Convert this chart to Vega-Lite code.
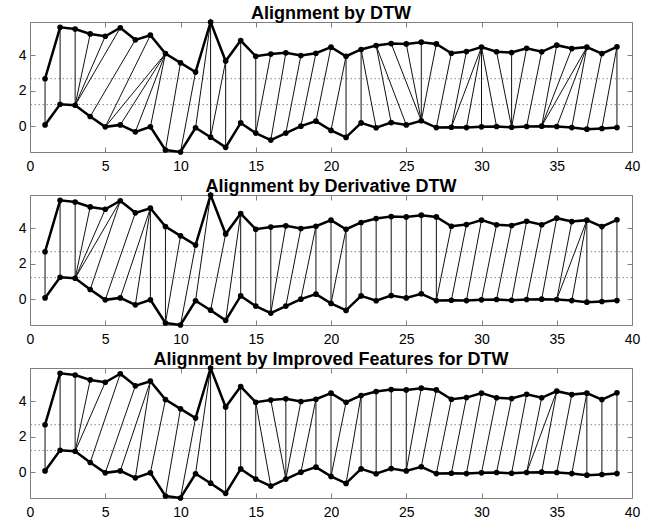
{
 "$schema": "https://vega.github.io/schema/vega-lite/v6.json",
 "padding": {"left": 17, "top": 4, "right": 25, "bottom": 0},
 "bounds": "flush",
 "spacing": 43,
 "background": "white",
 "config": {
  "view": {"stroke": "#7f7f7f", "strokeWidth": 1},
  "axis": {"domain": false, "grid": false, "ticks": true, "tickColor": "#7f7f7f", "tickSize": -5, "labelFont": "Liberation Sans", "labelFontSize": 14, "labelColor": "#000", "title": null, "labelFlush": false, "labelOverlap": false},
  "title": {"font": "Liberation Sans", "fontSize": 18, "fontWeight": "bold", "color": "#000", "offset": -6, "anchor": "middle"}
 },
 "datasets": {
  "series": [
   {"t":1,"top":2.68,"bottom":0.09},{"t":2,"top":5.56,"bottom":1.25},{"t":3,"top":5.47,"bottom":1.19},{"t":4,"top":5.19,"bottom":0.56},{"t":5,"top":5.06,"bottom":-0.02},
   {"t":6,"top":5.54,"bottom":0.09},{"t":7,"top":4.86,"bottom":-0.30},{"t":8,"top":5.12,"bottom":-0.02},{"t":9,"top":4.09,"bottom":-1.32},{"t":10,"top":3.57,"bottom":-1.43},
   {"t":11,"top":3.05,"bottom":-0.07},{"t":12,"top":5.86,"bottom":-0.60},{"t":13,"top":3.67,"bottom":-1.17},{"t":14,"top":4.82,"bottom":0.20},{"t":15,"top":3.94,"bottom":-0.37},
   {"t":16,"top":4.06,"bottom":-0.76},{"t":17,"top":4.13,"bottom":-0.37},{"t":18,"top":3.98,"bottom":0.02},{"t":19,"top":4.11,"bottom":0.30},{"t":20,"top":4.45,"bottom":-0.22},
   {"t":21,"top":3.94,"bottom":-0.61},{"t":22,"top":4.32,"bottom":0.20},{"t":23,"top":4.54,"bottom":-0.07},{"t":24,"top":4.65,"bottom":0.22},{"t":25,"top":4.63,"bottom":0.09},
   {"t":26,"top":4.73,"bottom":0.32},{"t":27,"top":4.63,"bottom":-0.06},{"t":28,"top":4.11,"bottom":-0.04},{"t":29,"top":4.20,"bottom":-0.06},{"t":30,"top":4.45,"bottom":-0.02},
   {"t":31,"top":4.19,"bottom":0.00},{"t":32,"top":4.15,"bottom":-0.04},{"t":33,"top":4.39,"bottom":0.00},{"t":34,"top":4.19,"bottom":0.02},{"t":35,"top":4.56,"bottom":0.00},
   {"t":36,"top":4.37,"bottom":-0.06},{"t":37,"top":4.45,"bottom":-0.15},{"t":38,"top":4.09,"bottom":-0.11},{"t":39,"top":4.47,"bottom":-0.06}
  ],
  "refs": [{"y": 2.68}, {"y": 1.23}],
  "alignA": [
   {"i":1,"j":1,"yi":2.68,"yj":0.09},{"i":2,"j":2,"yi":5.56,"yj":1.25},{"i":3,"j":3,"yi":5.47,"yj":1.19},{"i":4,"j":3,"yi":5.19,"yj":1.19},{"i":5,"j":3,"yi":5.06,"yj":1.19},{"i":6,"j":3,"yi":5.54,"yj":1.19},{"i":7,"j":4,"yi":4.86,"yj":0.56},{"i":8,"j":5,"yi":5.12,"yj":-0.02},{"i":9,"j":5,"yi":4.09,"yj":-0.02},{"i":9,"j":6,"yi":4.09,"yj":0.09},{"i":9,"j":7,"yi":4.09,"yj":-0.30},{"i":9,"j":8,"yi":4.09,"yj":-0.02},{"i":10,"j":9,"yi":3.57,"yj":-1.32},{"i":11,"j":10,"yi":3.05,"yj":-1.43},{"i":12,"j":11,"yi":5.86,"yj":-0.07},{"i":12,"j":12,"yi":5.86,"yj":-0.60},{"i":13,"j":12,"yi":3.67,"yj":-0.60},{"i":13,"j":13,"yi":3.67,"yj":-1.17},{"i":14,"j":14,"yi":4.82,"yj":0.20},{"i":15,"j":15,"yi":3.94,"yj":-0.37},{"i":16,"j":15,"yi":4.06,"yj":-0.37},{"i":17,"j":16,"yi":4.13,"yj":-0.76},{"i":18,"j":17,"yi":3.98,"yj":-0.37},{"i":19,"j":18,"yi":4.11,"yj":0.02},{"i":20,"j":19,"yi":4.45,"yj":0.30},{"i":21,"j":20,"yi":3.94,"yj":-0.22},{"i":21,"j":21,"yi":3.94,"yj":-0.61},{"i":22,"j":22,"yi":4.32,"yj":0.20},{"i":22,"j":23,"yi":4.32,"yj":-0.07},{"i":23,"j":24,"yi":4.54,"yj":0.22},{"i":23,"j":25,"yi":4.54,"yj":0.09},{"i":24,"j":26,"yi":4.65,"yj":0.32},{"i":25,"j":26,"yi":4.63,"yj":0.32},{"i":26,"j":26,"yi":4.73,"yj":0.32},{"i":27,"j":26,"yi":4.63,"yj":0.32},{"i":28,"j":27,"yi":4.11,"yj":-0.06},{"i":29,"j":28,"yi":4.20,"yj":-0.04},{"i":30,"j":28,"yi":4.45,"yj":-0.04},{"i":30,"j":29,"yi":4.45,"yj":-0.06},{"i":30,"j":30,"yi":4.45,"yj":-0.02},{"i":30,"j":31,"yi":4.45,"yj":0.00},{"i":31,"j":32,"yi":4.19,"yj":-0.04},{"i":32,"j":32,"yi":4.15,"yj":-0.04},{"i":33,"j":32,"yi":4.39,"yj":-0.04},{"i":34,"j":33,"yi":4.19,"yj":0.00},{"i":35,"j":34,"yi":4.56,"yj":0.02},{"i":36,"j":34,"yi":4.37,"yj":0.02},{"i":37,"j":34,"yi":4.45,"yj":0.02},{"i":37,"j":35,"yi":4.45,"yj":0.00},{"i":37,"j":36,"yi":4.45,"yj":-0.06},{"i":38,"j":37,"yi":4.09,"yj":-0.15},{"i":39,"j":38,"yi":4.47,"yj":-0.11},{"i":39,"j":39,"yi":4.47,"yj":-0.06}
  ],
  "alignB": [
   {"i":1,"j":1,"yi":2.68,"yj":0.09},{"i":2,"j":2,"yi":5.56,"yj":1.25},{"i":3,"j":3,"yi":5.47,"yj":1.19},{"i":4,"j":3,"yi":5.19,"yj":1.19},{"i":5,"j":3,"yi":5.06,"yj":1.19},{"i":6,"j":3,"yi":5.54,"yj":1.19},{"i":6,"j":4,"yi":5.54,"yj":0.56},{"i":7,"j":5,"yi":4.86,"yj":-0.02},{"i":8,"j":6,"yi":5.12,"yj":0.09},{"i":8,"j":7,"yi":5.12,"yj":-0.30},{"i":8,"j":8,"yi":5.12,"yj":-0.02},{"i":9,"j":9,"yi":4.09,"yj":-1.32},{"i":10,"j":9,"yi":3.57,"yj":-1.32},{"i":11,"j":10,"yi":3.05,"yj":-1.43},{"i":12,"j":11,"yi":5.86,"yj":-0.07},{"i":13,"j":12,"yi":3.67,"yj":-0.60},{"i":14,"j":13,"yi":4.82,"yj":-1.17},{"i":14,"j":14,"yi":4.82,"yj":0.20},{"i":15,"j":15,"yi":3.94,"yj":-0.37},{"i":16,"j":16,"yi":4.06,"yj":-0.76},{"i":17,"j":16,"yi":4.13,"yj":-0.76},{"i":18,"j":17,"yi":3.98,"yj":-0.37},{"i":19,"j":18,"yi":4.11,"yj":0.02},{"i":19,"j":19,"yi":4.11,"yj":0.30},{"i":20,"j":20,"yi":4.45,"yj":-0.22},{"i":21,"j":20,"yi":3.94,"yj":-0.22},{"i":21,"j":21,"yi":3.94,"yj":-0.61},{"i":22,"j":22,"yi":4.32,"yj":0.20},{"i":23,"j":23,"yi":4.54,"yj":-0.07},{"i":24,"j":24,"yi":4.65,"yj":0.22},{"i":25,"j":25,"yi":4.63,"yj":0.09},{"i":26,"j":26,"yi":4.73,"yj":0.32},{"i":27,"j":27,"yi":4.63,"yj":-0.06},{"i":28,"j":27,"yi":4.11,"yj":-0.06},{"i":29,"j":28,"yi":4.20,"yj":-0.04},{"i":30,"j":29,"yi":4.45,"yj":-0.06},{"i":31,"j":30,"yi":4.19,"yj":-0.02},{"i":32,"j":31,"yi":4.15,"yj":0.00},{"i":33,"j":32,"yi":4.39,"yj":-0.04},{"i":34,"j":33,"yi":4.19,"yj":0.00},{"i":35,"j":34,"yi":4.56,"yj":0.02},{"i":36,"j":35,"yi":4.37,"yj":0.00},{"i":37,"j":35,"yi":4.45,"yj":0.00},{"i":37,"j":36,"yi":4.45,"yj":-0.06},{"i":37,"j":37,"yi":4.45,"yj":-0.15},{"i":38,"j":38,"yi":4.09,"yj":-0.11},{"i":39,"j":39,"yi":4.47,"yj":-0.06}
  ],
  "alignC": [
   {"i":1,"j":1,"yi":2.68,"yj":0.09},{"i":2,"j":2,"yi":5.56,"yj":1.25},{"i":3,"j":3,"yi":5.47,"yj":1.19},{"i":4,"j":3,"yi":5.19,"yj":1.19},{"i":5,"j":3,"yi":5.06,"yj":1.19},{"i":6,"j":4,"yi":5.54,"yj":0.56},{"i":7,"j":5,"yi":4.86,"yj":-0.02},{"i":8,"j":6,"yi":5.12,"yj":0.09},{"i":8,"j":7,"yi":5.12,"yj":-0.30},{"i":9,"j":8,"yi":4.09,"yj":-0.02},{"i":10,"j":9,"yi":3.57,"yj":-1.32},{"i":11,"j":10,"yi":3.05,"yj":-1.43},{"i":12,"j":11,"yi":5.86,"yj":-0.07},{"i":12,"j":12,"yi":5.86,"yj":-0.60},{"i":13,"j":13,"yi":3.67,"yj":-1.17},{"i":14,"j":14,"yi":4.82,"yj":0.20},{"i":15,"j":15,"yi":3.94,"yj":-0.37},{"i":15,"j":16,"yi":3.94,"yj":-0.76},{"i":16,"j":17,"yi":4.06,"yj":-0.37},{"i":17,"j":17,"yi":4.13,"yj":-0.37},{"i":18,"j":17,"yi":3.98,"yj":-0.37},{"i":19,"j":18,"yi":4.11,"yj":0.02},{"i":19,"j":19,"yi":4.11,"yj":0.30},{"i":20,"j":20,"yi":4.45,"yj":-0.22},{"i":21,"j":20,"yi":3.94,"yj":-0.22},{"i":22,"j":21,"yi":4.32,"yj":-0.61},{"i":22,"j":22,"yi":4.32,"yj":0.20},{"i":23,"j":23,"yi":4.54,"yj":-0.07},{"i":24,"j":24,"yi":4.65,"yj":0.22},{"i":25,"j":25,"yi":4.63,"yj":0.09},{"i":26,"j":25,"yi":4.73,"yj":0.09},{"i":27,"j":26,"yi":4.63,"yj":0.32},{"i":28,"j":27,"yi":4.11,"yj":-0.06},{"i":29,"j":28,"yi":4.20,"yj":-0.04},{"i":30,"j":29,"yi":4.45,"yj":-0.06},{"i":31,"j":30,"yi":4.19,"yj":-0.02},{"i":32,"j":31,"yi":4.15,"yj":0.00},{"i":33,"j":32,"yi":4.39,"yj":-0.04},{"i":34,"j":33,"yi":4.19,"yj":0.00},{"i":35,"j":33,"yi":4.56,"yj":0.00},{"i":35,"j":34,"yi":4.56,"yj":0.02},{"i":36,"j":35,"yi":4.37,"yj":0.00},{"i":37,"j":36,"yi":4.45,"yj":-0.06},{"i":37,"j":37,"yi":4.45,"yj":-0.15},{"i":38,"j":38,"yi":4.09,"yj":-0.11},{"i":39,"j":39,"yi":4.47,"yj":-0.06}
  ]
 },
 "vconcat": [
  {
   "width": 602, "height": 130,
   "title": "Alignment by DTW",
   "resolve": {"axis": {"x": "independent", "y": "independent"}},
   "layer": [
    {"data": {"name": "refs"}, "mark": {"type": "rule", "color": "#8c8c8c", "strokeWidth": 1, "strokeDash": [1.5, 2.5]},
     "encoding": {"y": {"field": "y", "type": "quantitative", "scale": {"domain": [-1.43, 5.86], "nice": false, "zero": false}, "axis": null}}},
    {"data": {"name": "alignA"},
     "mark": {"type": "rule", "color": "#111", "strokeWidth": 1},
     "encoding": {"x": {"field": "i", "type": "quantitative", "scale": {"domain": [0, 40], "nice": false}, "axis": null}, "x2": {"field": "j"},
      "y": {"field": "yi", "type": "quantitative", "scale": {"domain": [-1.43, 5.86], "nice": false, "zero": false}, "axis": null}, "y2": {"field": "yj"}}},
    {"data": {"name": "series"}, "transform": [{"fold": ["top", "bottom"], "as": ["s", "v"]}],
     "mark": {"type": "line", "color": "#000", "strokeWidth": 2.5},
     "encoding": {"x": {"field": "t", "type": "quantitative", "scale": {"domain": [0, 40], "nice": false}, "axis": {"orient": "bottom", "values": [0,5,10,15,20,25,30,35,40], "labelPadding": 12}},
      "y": {"field": "v", "type": "quantitative", "scale": {"domain": [-1.43, 5.86], "nice": false, "zero": false}, "axis": {"orient": "left", "values": [0,2,4], "labelPadding": 9}},
      "detail": {"field": "s"}}},
    {"data": {"name": "series"}, "transform": [{"fold": ["top", "bottom"], "as": ["s", "v"]}],
     "mark": {"type": "circle", "color": "#000", "size": 32, "opacity": 1},
     "encoding": {"x": {"field": "t", "type": "quantitative", "scale": {"domain": [0, 40], "nice": false}, "axis": {"orient": "top", "values": [0,5,10,15,20,25,30,35,40], "labels": false}},
      "y": {"field": "v", "type": "quantitative", "scale": {"domain": [-1.43, 5.86], "nice": false, "zero": false}, "axis": {"orient": "right", "values": [0,2,4], "labels": false}}}}
   ]
  },
  {
   "width": 602, "height": 130,
   "title": "Alignment by Derivative DTW",
   "resolve": {"axis": {"x": "independent", "y": "independent"}},
   "layer": [
    {"data": {"name": "refs"}, "mark": {"type": "rule", "color": "#8c8c8c", "strokeWidth": 1, "strokeDash": [1.5, 2.5]},
     "encoding": {"y": {"field": "y", "type": "quantitative", "scale": {"domain": [-1.43, 5.86], "nice": false, "zero": false}, "axis": null}}},
    {"data": {"name": "alignB"},
     "mark": {"type": "rule", "color": "#111", "strokeWidth": 1},
     "encoding": {"x": {"field": "i", "type": "quantitative", "scale": {"domain": [0, 40], "nice": false}, "axis": null}, "x2": {"field": "j"},
      "y": {"field": "yi", "type": "quantitative", "scale": {"domain": [-1.43, 5.86], "nice": false, "zero": false}, "axis": null}, "y2": {"field": "yj"}}},
    {"data": {"name": "series"}, "transform": [{"fold": ["top", "bottom"], "as": ["s", "v"]}],
     "mark": {"type": "line", "color": "#000", "strokeWidth": 2.5},
     "encoding": {"x": {"field": "t", "type": "quantitative", "scale": {"domain": [0, 40], "nice": false}, "axis": {"orient": "bottom", "values": [0,5,10,15,20,25,30,35,40], "labelPadding": 12}},
      "y": {"field": "v", "type": "quantitative", "scale": {"domain": [-1.43, 5.86], "nice": false, "zero": false}, "axis": {"orient": "left", "values": [0,2,4], "labelPadding": 9}},
      "detail": {"field": "s"}}},
    {"data": {"name": "series"}, "transform": [{"fold": ["top", "bottom"], "as": ["s", "v"]}],
     "mark": {"type": "circle", "color": "#000", "size": 32, "opacity": 1},
     "encoding": {"x": {"field": "t", "type": "quantitative", "scale": {"domain": [0, 40], "nice": false}, "axis": {"orient": "top", "values": [0,5,10,15,20,25,30,35,40], "labels": false}},
      "y": {"field": "v", "type": "quantitative", "scale": {"domain": [-1.43, 5.86], "nice": false, "zero": false}, "axis": {"orient": "right", "values": [0,2,4], "labels": false}}}}
   ]
  },
  {
   "width": 602, "height": 130,
   "title": "Alignment by Improved Features for DTW",
   "resolve": {"axis": {"x": "independent", "y": "independent"}},
   "layer": [
    {"data": {"name": "refs"}, "mark": {"type": "rule", "color": "#8c8c8c", "strokeWidth": 1, "strokeDash": [1.5, 2.5]},
     "encoding": {"y": {"field": "y", "type": "quantitative", "scale": {"domain": [-1.43, 5.86], "nice": false, "zero": false}, "axis": null}}},
    {"data": {"name": "alignC"},
     "mark": {"type": "rule", "color": "#111", "strokeWidth": 1},
     "encoding": {"x": {"field": "i", "type": "quantitative", "scale": {"domain": [0, 40], "nice": false}, "axis": null}, "x2": {"field": "j"},
      "y": {"field": "yi", "type": "quantitative", "scale": {"domain": [-1.43, 5.86], "nice": false, "zero": false}, "axis": null}, "y2": {"field": "yj"}}},
    {"data": {"name": "series"}, "transform": [{"fold": ["top", "bottom"], "as": ["s", "v"]}],
     "mark": {"type": "line", "color": "#000", "strokeWidth": 2.5},
     "encoding": {"x": {"field": "t", "type": "quantitative", "scale": {"domain": [0, 40], "nice": false}, "axis": {"orient": "bottom", "values": [0,5,10,15,20,25,30,35,40], "labelPadding": 12}},
      "y": {"field": "v", "type": "quantitative", "scale": {"domain": [-1.43, 5.86], "nice": false, "zero": false}, "axis": {"orient": "left", "values": [0,2,4], "labelPadding": 9}},
      "detail": {"field": "s"}}},
    {"data": {"name": "series"}, "transform": [{"fold": ["top", "bottom"], "as": ["s", "v"]}],
     "mark": {"type": "circle", "color": "#000", "size": 32, "opacity": 1},
     "encoding": {"x": {"field": "t", "type": "quantitative", "scale": {"domain": [0, 40], "nice": false}, "axis": {"orient": "top", "values": [0,5,10,15,20,25,30,35,40], "labels": false}},
      "y": {"field": "v", "type": "quantitative", "scale": {"domain": [-1.43, 5.86], "nice": false, "zero": false}, "axis": {"orient": "right", "values": [0,2,4], "labels": false}}}}
   ]
  }
 ]
}
